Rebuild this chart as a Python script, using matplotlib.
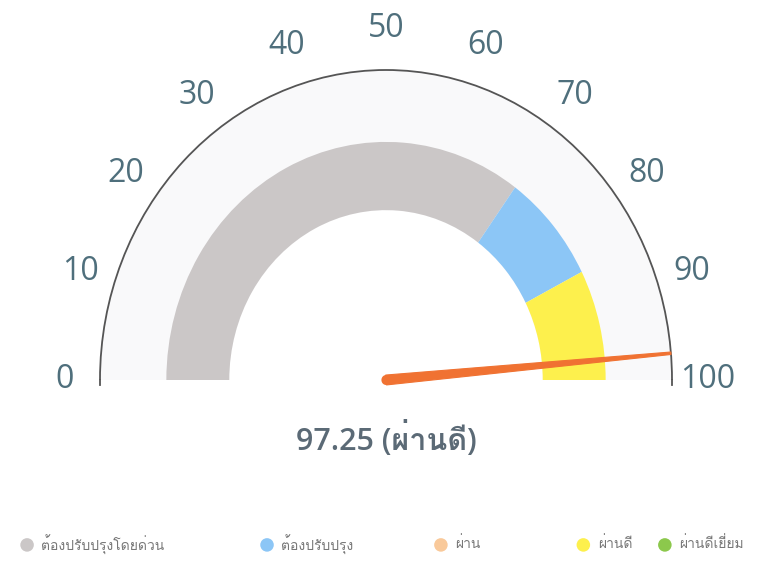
import numpy as np
import matplotlib
matplotlib.use("Agg")
from matplotlib import pyplot as plt
from matplotlib import font_manager
from matplotlib.ft2font import FT2Font
from matplotlib.patches import Wedge, Arc, Polygon

# gauge data
band_labels = ['ต้องปรับปรุงโดยด่วน', 'ต้องปรับปรุง', 'ผ่าน', 'ผ่านดี', 'ผ่านดีเยี่ยม']
band_colors = ['#cbc7c7', '#8cc6f6', '#f9c99a', '#fdf04d', '#8cc84c']
band_from = [0, 70, 85, 85, 100]
band_to = [70, 85, 85, 100, 100]
tick_values = [0, 10, 20, 30, 40, 50, 60, 70, 80, 90, 100]
score = 97.25
score_label = 'ผ่านดี'


def find_thai_font():
    for f in font_manager.fontManager.ttflist:
        try:
            cmap = FT2Font(f.fname).get_charmap()
        except Exception:
            continue
        if ord('ผ') in cmap:
            return f.name
    return None


thai = find_thai_font()
fams = ['Open Sans', 'DejaVu Sans']
if thai:
    fams = ['Open Sans', thai, 'DejaVu Sans']
plt.rcParams['font.family'] = fams

fig = plt.figure(figsize=(7.63, 5.62), dpi=100)
ax = fig.add_axes([0, 0, 1, 1])
ax.set_xlim(-386 / 286, (763 - 386) / 286)
ax.set_ylim(-(562 - 380) / 310, 380 / 310)
ax.axis('off')


def ang(v):
    return 180 * (1 - v / 100)


r_out, r_in = 0.768, 0.548

# background ring + outer arc
ax.add_patch(Wedge((0, 0), 1.0, 0, 180, width=1.0 - r_in, facecolor='#f9f9fa', edgecolor='none'))
ax.add_patch(Arc((0, 0), 2.0, 2.0, theta1=0, theta2=180, color='#555555', lw=1.3))
ax.plot([-1, -1], [0, -0.015], color='#555555', lw=1.3)
ax.plot([1, 1], [0, -0.015], color='#555555', lw=1.3)

for a, b, c in zip(band_from, band_to, band_colors):
    if b > a:
        ax.add_patch(Wedge((0, 0), r_out, ang(b), ang(a), width=r_out - r_in,
                           facecolor=c, edgecolor='none'))

for v in tick_values:
    t = np.radians(ang(v))
    ax.text(1.125 * np.cos(t), 1.135 * np.sin(t), str(v), ha='center', va='center',
            fontsize=23, color='#4f6f7c',
            family=['Liberation Sans Narrow', 'Open Sans', 'DejaVu Sans'])

# needle
t = np.radians(ang(score))
tip = np.array([np.cos(t), np.sin(t)])
nrm = np.array([-np.sin(t), np.cos(t)])
hw, tw = 0.016, 0.004
needle = Polygon([nrm * hw, tip + nrm * tw, tip - nrm * tw, -nrm * hw], closed=True,
                 facecolor='#f07232', edgecolor='#f07232', lw=0.8)
ax.add_patch(needle)
ax.add_patch(Wedge((0, 0), hw, 0, 360, facecolor='#f07232', edgecolor='none'))

ax.text(0, -0.19, f'{score} ({score_label})', ha='center', va='center',
        fontsize=22, color='#5b6a76', fontweight='semibold')

# legend
xs = [-1.255, -0.416, 0.192, 0.69, 0.975]
for x, lab, c in zip(xs, band_labels, band_colors):
    ax.scatter([x], [-0.532], s=95, color=c, edgecolors='none')
    ax.text(x + 0.05, -0.532, lab, ha='left', va='center', fontsize=10, color='#777777')

fig.savefig('out.png', dpi=100)
